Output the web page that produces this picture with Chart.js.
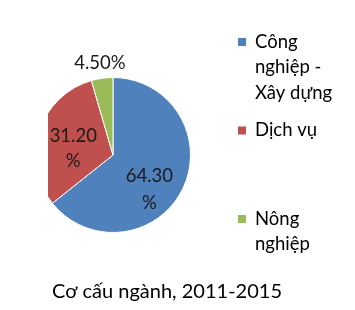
<!DOCTYPE html>
<html lang="vi">
<head>
<meta charset="UTF-8">
<title>Cơ cấu ngành</title>
<script src="https://cdn.jsdelivr.net/npm/chart.js"></script>
<style>
    html, body { margin: 0; padding: 0; background: #fff; }
    #chart { display: block; }
</style>
</head>
<body>
<canvas id="chart" width="355" height="310"></canvas>
<script>
// data
const categories = ['Công nghiệp - Xây dựng', 'Dịch vụ', 'Nông nghiệp'];
const shares = [64.3, 31.2, 4.5];
const valueLabels = ['64.30 %', '31.20 %', '4.50%'];
const titleText = 'Cơ cấu ngành, 2011-2015';

const colors = ['#4F81BD', '#C0504D', '#9BBB59'];
const FONT = 'Lato, "Liberation Sans", sans-serif';

// wrap text to a max width
function wrap(ctx, text, maxW) {
    const words = text.split(' ');
    const lines = [];
    let cur = '';
    words.forEach(w => {
        const t = cur ? cur + ' ' + w : w;
        if (cur && ctx.measureText(t).width > maxW) {
            lines.push(cur);
            cur = w;
        } else {
            cur = t;
        }
    });
    if (cur) lines.push(cur);
    return lines;
}

// plot area is cut off on the left like the original
const clipLeft = {
    id: 'clipLeft',
    afterDatasetsDraw(chart) {
        const ctx = chart.ctx;
        ctx.save();
        ctx.fillStyle = '#fff';
        ctx.fillRect(0, 0, 48, chart.height);
        ctx.restore();
    }
};

// slice labels: [radius factor, angle shift (deg), line height]
const labelPlace = [[0.65, 18, 27], [0.52, -8, 25], [1.2, 0, 0]];
const sliceLabels = {
    id: 'sliceLabels',
    afterDraw(chart) {
        const ctx = chart.ctx;
        const arcs = chart.getDatasetMeta(0).data;
        ctx.save();
        ctx.font = '18.5px ' + FONT;
        ctx.fillStyle = '#1a1a1a';
        ctx.textAlign = 'center';
        ctx.textBaseline = 'middle';
        arcs.forEach((arc, i) => {
            const p = arc.getProps(['x', 'y', 'startAngle', 'endAngle', 'outerRadius'], true);
            const [f, shift, lh] = labelPlace[i];
            const a = (p.startAngle + p.endAngle) / 2 + shift * Math.PI / 180;
            const cx = p.x + Math.cos(a) * p.outerRadius * f;
            const cy = p.y + Math.sin(a) * p.outerRadius * f;
            let lines = [valueLabels[i]];
            if (lh) lines = valueLabels[i].split(' ');
            lines.forEach((l, k) => {
                ctx.fillText(l, cx, cy + (k - (lines.length - 1) / 2) * lh);
            });
        });
        ctx.restore();
    }
};

// legend on the right + title at the bottom
const sideLegend = {
    id: 'sideLegend',
    afterDraw(chart) {
        const ctx = chart.ctx;
        ctx.save();
        ctx.font = '18.5px ' + FONT;
        ctx.textBaseline = 'middle';
        ctx.textAlign = 'left';
        categories.forEach((c, i) => {
            const top = 42 + i * 88.5;
            ctx.fillStyle = colors[i];
            ctx.fillRect(238, top - 4, 8, 8);
            ctx.fillStyle = '#000';
            wrap(ctx, c, 85).forEach((l, k) => {
                ctx.fillText(l, 255, top + k * 25.5);
            });
        });
        ctx.font = '20px ' + FONT;
        ctx.textAlign = 'center';
        ctx.fillText(titleText, 167, 292);
        ctx.restore();
    }
};

new Chart(document.getElementById('chart'), {
    type: 'pie',
    data: {
        labels: categories,
        datasets: [{
            data: shares,
            backgroundColor: colors,
            borderColor: '#ffffff',
            borderWidth: 1
        }]
    },
    options: {
        responsive: false,
        animation: false,
        layout: { padding: { left: 35, top: 77, right: 164, bottom: 77 } },
        plugins: {
            legend: { display: false },
            title: { display: false },
            tooltip: { enabled: false }
        }
    },
    plugins: [clipLeft, sliceLabels, sideLegend]
});
</script>
</body>
</html>
